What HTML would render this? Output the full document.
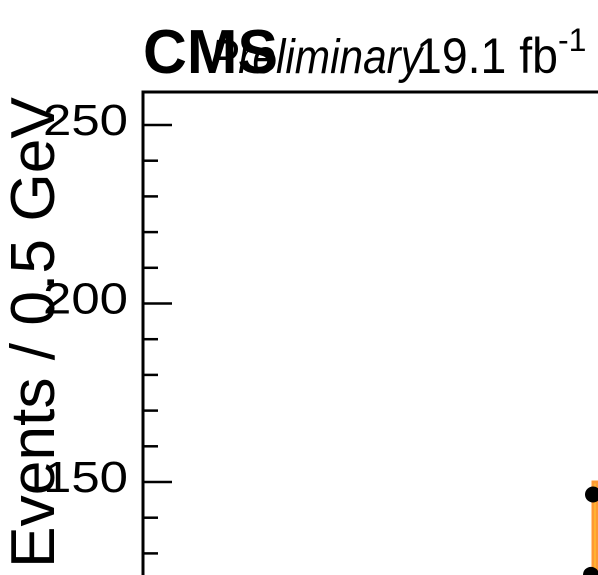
<!DOCTYPE html>
<html><head><meta charset="utf-8"><style>
html,body{margin:0;background:#fff;width:598px;height:575px;overflow:hidden;font-family:"Liberation Sans",sans-serif}
svg{display:block;overflow:hidden}
</style></head><body>
<svg id="c" width="598" height="575" xmlns="http://www.w3.org/2000/svg">
<text x="143" y="73" font-size="62" font-weight="bold" font-family="Liberation Sans, sans-serif" textLength="135" lengthAdjust="spacingAndGlyphs">CMS</text>
<text x="210" y="73" font-size="48" font-style="italic" font-family="Liberation Sans, sans-serif" textLength="212" lengthAdjust="spacingAndGlyphs">Preliminary</text>
<text x="416" y="73" font-size="50" font-family="Liberation Sans, sans-serif"><tspan textLength="142" lengthAdjust="spacingAndGlyphs">19.1 fb</tspan><tspan dy="-22" font-size="32">-1</tspan></text>
<text transform="translate(54,568) rotate(-90)" x="0" y="0" font-size="62" font-family="Liberation Sans, sans-serif" textLength="471" lengthAdjust="spacingAndGlyphs">Events / 0.5 GeV</text>
<g id="plot"></g>
<g id="axis"></g>
</svg>
<script>
const yTicks=[150,200,250];
const binEdges=[118.5,119,119.5];
const mcValues=[0,150];
const dataX=[118.75,119.25];
const dataY=[124,146.5];
const NS="http://www.w3.org/2000/svg";
const y=v=>482-(v-150)*3.57;
const x=v=>593+(v-119)*8;
const plot=document.getElementById('plot'),axis=document.getElementById('axis');
function mk(p,t,a){const e=document.createElementNS(NS,t);for(const k in a)e.setAttribute(k,a[k]);p.appendChild(e);return e;}
for(let i=0;i<mcValues.length;i++){if(!mcValues[i])continue;
const r=mk(plot,'rect',{x:x(binEdges[i]),y:y(mcValues[i]),width:x(binEdges[i+1])-x(binEdges[i]),height:575-y(mcValues[i])+5,fill:'#ffcc33',stroke:'#ff9933','stroke-width':3});

}
for(let i=0;i<dataX.length;i++){
const c=mk(plot,'circle',{cx:x(dataX[i])+(i?-2:0),cy:y(dataY[i]),r:8,fill:'#000'});

}
const fr=mk(axis,'path',{d:'M143,580 V92 H610',fill:'none',stroke:'#000','stroke-width':3});


for(let v=120;v<=260;v+=10){const yy=y(v);if(yy<95||yy>575)continue;
const major=v%50===0;
mk(axis,'line',{x1:143,x2:major?172:158,y1:yy,y2:yy,stroke:'#000','stroke-width':2.5});}
yTicks.forEach(v=>{const t=mk(axis,'text',{x:43,y:y(v)+10,'font-size':44,'font-family':'Liberation Sans, sans-serif',textLength:85,lengthAdjust:'spacingAndGlyphs'});t.textContent=v;

});
</script>
</body></html>
